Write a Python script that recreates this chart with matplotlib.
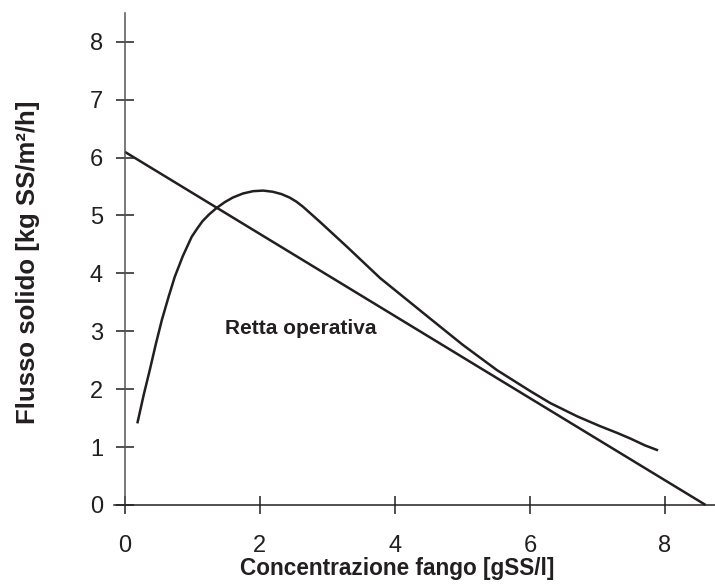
import matplotlib
matplotlib.use('Agg')
from matplotlib import pyplot as plt

# Data
conc = [0.19, 0.28, 0.37, 0.46, 0.55, 0.65, 0.74, 0.86, 0.99, 1.07, 1.15,
        1.25, 1.36, 1.48, 1.6, 1.75, 1.9, 2.05, 2.19, 2.32, 2.44, 2.54,
        2.64, 2.89, 3.29, 3.78, 4.5, 5.0, 5.51, 6.0, 6.3, 6.7, 7.04, 7.3,
        7.5, 7.7, 7.88]
flux = [1.43, 1.9, 2.33, 2.78, 3.2, 3.6, 3.94, 4.3, 4.63, 4.77, 4.9,
        5.02, 5.13, 5.23, 5.31, 5.38, 5.42, 5.43, 5.41, 5.37, 5.31, 5.24,
        5.15, 4.89, 4.46, 3.92, 3.24, 2.77, 2.33, 1.97, 1.76, 1.53, 1.36, 1.24,
        1.14, 1.03, 0.95]
retta_x = [0, 8.6]
retta_y = [6.1, 0]
xticks = [0, 2, 4, 6, 8]
yticks = [0, 1, 2, 3, 4, 5, 6, 7, 8]

plt.rcParams['font.family'] = ['Liberation Sans', 'DejaVu Sans']
ink = '#231f20'

fig = plt.figure(figsize=(7.15, 5.85), dpi=100)
ax = fig.add_axes([0.1594, 0.123, 0.8406, 0.855])

ax.plot(conc, flux, color=ink, lw=1.8, solid_joinstyle='round')
ax.plot(retta_x, retta_y, color=ink, lw=1.8, solid_capstyle='butt')
ax.text(1.48, 3.05, 'Retta operativa', fontsize=15, fontweight='bold',
        color=ink, va='center', ha='left')

ax.set_xlim(-0.16, 8.74)
ax.set_ylim(-0.14, 8.5)
ax.spines['right'].set_visible(False)
ax.spines['top'].set_visible(False)
ax.spines['left'].set_position(('data', 0))
ax.spines['bottom'].set_position(('data', 0))
ax.spines['left'].set_color('#555555')
ax.spines['bottom'].set_color(ink)
ax.spines['left'].set_linewidth(1.1)
ax.spines['bottom'].set_linewidth(1.1)

ax.set_xticks(xticks)
ax.set_yticks(yticks)
ax.tick_params(axis='both', direction='inout', length=13.5, width=1.1,
               colors=ink, labelsize=17)
ax.tick_params(axis='x', pad=15)
ax.tick_params(axis='y', pad=9)

fig.text(0.555, 0.029, 'Concentrazione fango [gSS/l]', fontsize=16.3,
         fontweight='bold', color=ink, ha='center', va='center')
fig.text(0.039, 0.552, 'Flusso solido [kg SS/m²/h]', fontsize=18.5,
         fontweight='bold', color=ink, ha='center', va='center', rotation=90)

fig.savefig('out.png', dpi=100)
